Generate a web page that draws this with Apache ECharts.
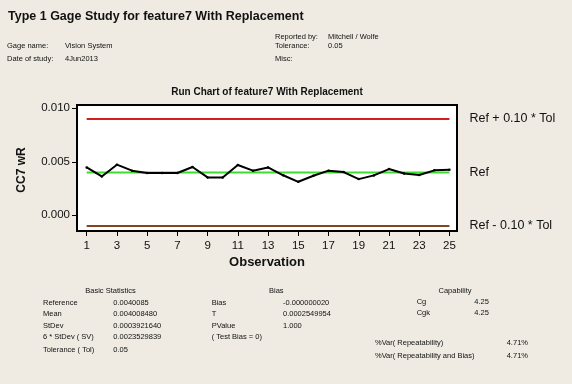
<!DOCTYPE html>
<html><head><meta charset="utf-8">
<script src="https://cdn.jsdelivr.net/npm/echarts@6/dist/echarts.min.js"></script>
<style>html,body{margin:0;padding:0;background:#EFEBE2}#c{width:572px;height:384px}</style>
</head><body><div id="c"></div>
<script>
const observations = [1,2,3,4,5,6,7,8,9,10,11,12,13,14,15,16,17,18,19,20,21,22,23,24,25];
const cc7wR = [0.00447,0.00363,0.00473,0.00417,0.00395,0.00395,0.00395,0.00451,0.00354,0.00354,
               0.00470,0.00417,0.00447,0.00374,0.00313,0.00370,0.00417,0.00404,0.00338,0.00373,
               0.00432,0.00391,0.00376,0.00420,0.00426];
const reference = 0.0040085;
const tolerance = 0.05;
const refLabels = ['Ref + 0.10 * Tol', 'Ref', 'Ref - 0.10 * Tol'];
const refValues = [reference + 0.10 * tolerance, reference, reference - 0.10 * tolerance];
const refColors = ['#D21E1E', '#3EDC2E', '#84431F'];
const xTickLabels = [1,3,5,7,9,11,13,15,17,19,21,23,25];
const yTickValues = [0, 0.005, 0.010];

const titleText = 'Type 1 Gage Study for feature7 With Replacement';
const chartTitle = 'Run Chart of feature7 With Replacement';
const yName = 'CC7 wR';
const xName = 'Observation';
const headerLeft = [['Gage name:', 'Vision System'], ['Date of study:', '4Jun2013']];
const headerRight = [['Reported by:', 'Mitchell / Wolfe'], ['Tolerance:', '0.05'], ['Misc:', '']];
const basicStats = [['Reference', '0.0040085'], ['Mean', '0.004008480'], ['StDev', '0.0003921640'],
                    ['6 * StDev ( SV)', '0.0023529839'], ['Tolerance ( Tol)', '0.05']];
const biasStats = [['Bias', '-0.000000020'], ['T', '0.0002549954'], ['PValue', '1.000'], ['( Test Bias = 0)', '']];
const capability = [['Cg', '4.25'], ['Cgk', '4.25']];
const pctVar = [['%Var( Repeatability)', '4.71%'], ['%Var( Repeatability and Bias)', '4.71%']];

const FF = '"Liberation Sans", Arial, sans-serif';
const small = 7.5;
function txt(x, y, t, opts) {
  opts = opts || {};
  return { type: 'text', x: x, y: y, rotation: opts.rotation || 0,
    style: { text: t, fill: '#111', font: (opts.bold ? 'bold ' : '') + (opts.size || small) + 'px ' + FF,
             align: opts.align || 'left', verticalAlign: 'middle' } };
}
const g = [];
g.push(txt(8, 17, titleText, { bold: true, size: 12.5 }));
const hlY = [45.5, 58.5];
headerLeft.forEach((r, i) => { g.push(txt(7, hlY[i], r[0])); g.push(txt(65, hlY[i], r[1])); });
const hrY = [37, 46, 58.5];
headerRight.forEach((r, i) => { g.push(txt(275, hrY[i], r[0])); g.push(txt(328, hrY[i], r[1])); });
g.push(txt(267, 92, chartTitle, { bold: true, size: 10, align: 'center' }));
g.push(txt(22, 170, yName, { bold: true, size: 12, align: 'center', rotation: Math.PI / 2 }));
g.push(txt(267, 262.5, xName, { bold: true, size: 13, align: 'center' }));
const rowY = [302.7, 314, 325.7, 337.2, 350];
g.push(txt(110.5, 290.7, 'Basic Statistics', { align: 'center' }));
basicStats.forEach((r, i) => { g.push(txt(43, rowY[i], r[0])); g.push(txt(113.3, rowY[i], r[1])); });
g.push(txt(269, 290.7, 'Bias'));
biasStats.forEach((r, i) => { g.push(txt(211.7, rowY[i], r[0])); g.push(txt(283, rowY[i], r[1])); });
g.push(txt(455, 290.7, 'Capability', { align: 'center' }));
const capY = [301.7, 313.3];
capability.forEach((r, i) => { g.push(txt(416.7, capY[i], r[0])); g.push(txt(474.3, capY[i], r[1])); });
const pvY = [343.3, 356];
pctVar.forEach((r, i) => { g.push(txt(375, pvY[i], r[0])); g.push(txt(506.7, pvY[i], r[1])); });

const series = refValues.map((v, i) => ({
  type: 'line', data: [[observations[0], v], [observations[observations.length - 1], v]],
  symbol: 'none', lineStyle: { color: refColors[i], width: 2 }, z: 2, silent: true,
  endLabel: { show: true, formatter: refLabels[i], color: '#111', fontSize: 12.5, fontFamily: FF, distance: 20 }
}));
series.push({
  type: 'line', data: observations.map((o, i) => [o, cc7wR[i]]),
  symbol: 'circle', symbolSize: 2.5, itemStyle: { color: '#000' },
  lineStyle: { color: '#000', width: 2 }, z: 5
});

const chart = echarts.init(document.getElementById('c'), null, { renderer: 'canvas' });
chart.setOption({
  backgroundColor: '#EFEBE2',
  animation: false,
  grid: { left: 77, right: 115, top: 105, bottom: 153, show: true, backgroundColor: '#fff',
          borderColor: '#000', borderWidth: 2 },
  xAxis: { type: 'value', min: 0.36, max: 25.5, splitLine: { show: false }, axisLine: { show: false, onZero: false },
    axisTick: { show: true, customValues: xTickLabels, length: 5, lineStyle: { color: '#000', width: 1 } },
    axisLabel: { customValues: xTickLabels, fontSize: 11.5, color: '#111', fontFamily: FF, margin: 9 } },
  yAxis: { type: 'value', min: -0.00147, max: 0.01031, splitLine: { show: false }, axisLine: { show: false, onZero: false },
    axisTick: { show: true, customValues: yTickValues, length: 5, lineStyle: { color: '#000', width: 1 } },
    axisLabel: { customValues: yTickValues, fontSize: 11.5, color: '#111', fontFamily: FF, margin: 7,
                 formatter: v => v.toFixed(3) } },
  graphic: g,
  series: series
});
</script></body></html>
